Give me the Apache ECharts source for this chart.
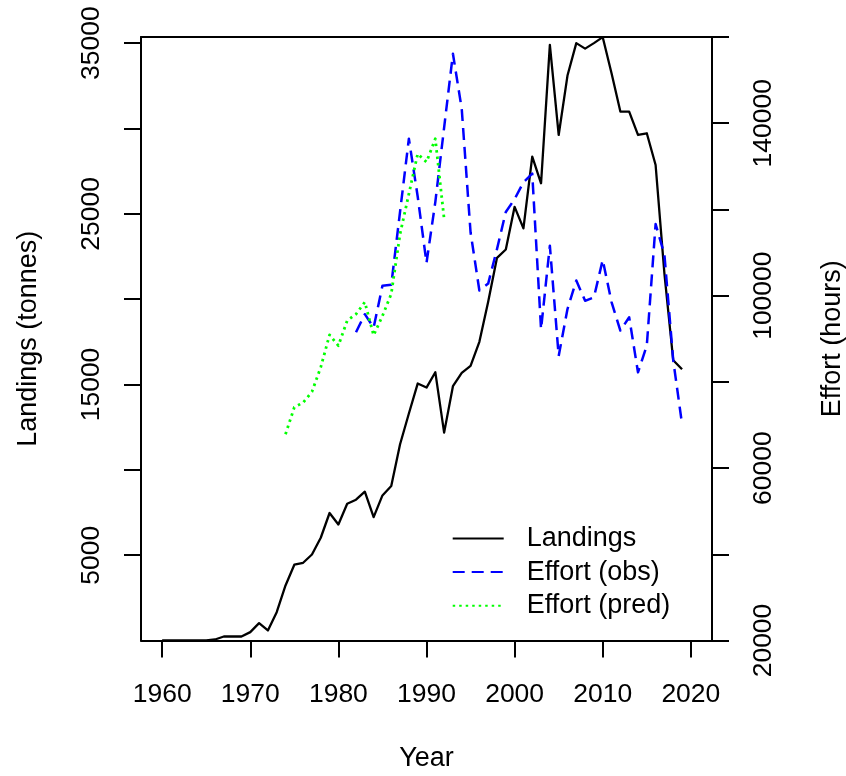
<!DOCTYPE html>
<html>
<head>
<meta charset="utf-8">
<script src="https://cdn.jsdelivr.net/npm/echarts@6/dist/echarts.min.js"></script>
<style>
  html, body { margin: 0; padding: 0; background: #ffffff; }
  #chart { width: 846px; height: 776px; }
</style>
</head>
<body>
<div id="chart"></div>
<script>
// Annual landings (tonnes), 1960-2019
const years = [];
for (let y = 1960; y <= 2019; y++) years.push(y);
const landings = [
  0, 0, 0, 0, 0, 0, 60, 235, 235, 235,
  490, 1015, 590, 1660, 3225, 4440, 4555, 5040, 6020, 7470,
  6800, 8015, 8250, 8720, 7230, 8500, 9050, 11500, 13300, 15055,
  14820, 15720, 12180, 14900, 15680, 16090, 17500, 19850, 22420, 22910,
  25410, 24150, 28350, 26790, 34900, 29620, 33100, 35000, 34680, 35000,
  35350, 33240, 30990, 30990, 29620, 29720, 27860, 21500, 16420, 15890
];

// Observed fishing effort (hours), 1982-2019
const effortObsYears = [];
for (let y = 1982; y <= 2019; y++) effortObsYears.push(y);
const effortObs = [
  91500, 95700, 92600, 102300, 102500, 119500, 136400, 123000, 107600, 121700,
  139000, 156100, 143300, 114700, 101200, 102800, 110800, 119400, 122400, 126300,
  128300, 92200, 111600, 86000, 96900, 103500, 98800, 99600, 108300, 98500,
  91900, 95000, 82200, 88400, 116600, 109500, 85000, 70200
];

// Predicted fishing effort (hours), 1974-1992
const effortPredYears = [];
for (let y = 1974; y <= 1992; y++) effortPredYears.push(y);
const effortPred = [
  67850, 74100, 75200, 77700, 83400, 90900, 88400, 94200, 95700, 98500,
  90800, 95300, 100400, 114300, 123600, 132900, 131000, 136400, 117800
];

// Axis ticks and labels
const yearTicks = [1960, 1970, 1980, 1990, 2000, 2010, 2020];
const landingsTicks = [5000, 10000, 15000, 20000, 25000, 30000, 35000];
const landingsLabels = [5000, 15000, 25000, 35000];
const effortTicks = [20000, 40000, 60000, 80000, 100000, 120000, 140000, 160000];
const effortLabels = [20000, 60000, 100000, 140000];

const FONT = 'Liberation Sans, Arial, sans-serif';
const pairs = (xs, ys) => xs.map((x, i) => [x, ys[i]]);
const frame = { show: true, onZero: false, lineStyle: { color: '#000', width: 2 } };
const tick = (vals) => ({ show: true, inside: false, length: 17, customValues: vals,
                          lineStyle: { color: '#000', width: 2 } });
const plain = (v) => String(v);

const chart = echarts.init(document.getElementById('chart'), null, { renderer: 'canvas' });
chart.setOption({
  animation: false,
  backgroundColor: '#ffffff',
  grid: { left: 141, right: 134, top: 37, bottom: 135.5,
          containLabel: false, outerBoundsMode: 'none' },
  xAxis: [
    {
      type: 'value', position: 'bottom', min: 1957.6, max: 2022.4,
      name: 'Year', nameLocation: 'middle', nameGap: 105,
      nameTextStyle: { fontSize: 27, color: '#000', fontFamily: FONT },
      axisLine: frame,
      axisTick: tick(yearTicks),
      axisLabel: { customValues: yearTicks, formatter: plain, margin: 41,
                   fontSize: 26.5, color: '#000', fontFamily: FONT },
      splitLine: { show: false }
    },
    {
      type: 'value', position: 'top', min: 1957.6, max: 2022.4,
      axisLine: frame, axisTick: { show: false }, axisLabel: { show: false },
      splitLine: { show: false }
    }
  ],
  yAxis: [
    {
      type: 'value', position: 'left', min: 0, max: 35360,
      name: 'Landings (tonnes)', nameLocation: 'middle', nameGap: 99, nameRotate: 90,
      nameTextStyle: { fontSize: 27, color: '#000', fontFamily: FONT },
      axisLine: frame,
      axisTick: tick(landingsTicks),
      axisLabel: { customValues: landingsLabels, formatter: plain, rotate: 90, margin: 36,
                   fontSize: 26.5, color: '#000', fontFamily: FONT },
      splitLine: { show: false }
    },
    {
      type: 'value', position: 'right', min: 20000, max: 160000,
      name: 'Effort (hours)', nameLocation: 'middle', nameGap: 107, nameRotate: 90,
      nameTextStyle: { fontSize: 27, color: '#000', fontFamily: FONT },
      axisLine: frame,
      axisTick: tick(effortTicks),
      axisLabel: { customValues: effortLabels, formatter: plain, rotate: 90, margin: 38,
                   fontSize: 26.5, color: '#000', fontFamily: FONT },
      splitLine: { show: false }
    }
  ],
  legend: {
    orient: 'vertical', left: 451.7, top: 525, padding: 0,
    itemWidth: 51, itemHeight: 14, itemGap: 6.6, selectedMode: false,
    itemStyle: { opacity: 0 },
    textStyle: { fontSize: 27, lineHeight: 27, color: '#000', fontFamily: FONT,
                 padding: [0, 0, 0, 18] },
    data: ['Landings', 'Effort (obs)', 'Effort (pred)']
  },
  series: [
    {
      name: 'Landings', type: 'line', xAxisIndex: 0, yAxisIndex: 0,
      data: pairs(years, landings), symbol: 'none',
      lineStyle: { color: '#000000', width: 2.3, join: 'round' },
      itemStyle: { color: '#000000', opacity: 0 }
    },
    {
      name: 'Effort (obs)', type: 'line', xAxisIndex: 0, yAxisIndex: 1,
      data: pairs(effortObsYears, effortObs), symbol: 'none',
      lineStyle: { color: '#0000ff', width: 2.5, type: [12, 7], join: 'round' },
      itemStyle: { color: '#0000ff', opacity: 0 }
    },
    {
      name: 'Effort (pred)', type: 'line', xAxisIndex: 0, yAxisIndex: 1,
      data: pairs(effortPredYears, effortPred), symbol: 'none',
      lineStyle: { color: '#00ff00', width: 2.8, type: [2.5, 4], join: 'round' },
      itemStyle: { color: '#00ff00', opacity: 0 }
    }
  ]
});
</script>
</body>
</html>
